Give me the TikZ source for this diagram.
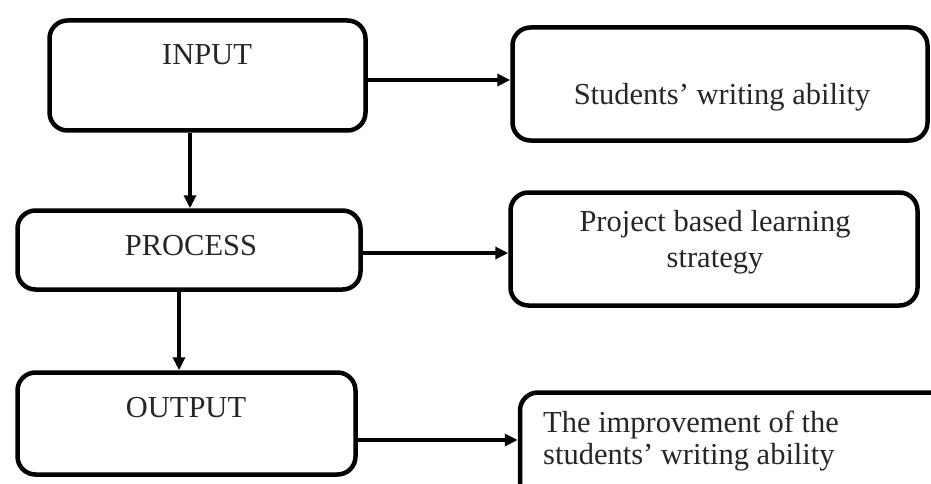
\documentclass[tikz,border=0pt]{standalone}
\usepackage{fontspec}
\setmainfont{Liberation Serif}
\usetikzlibrary{arrows.meta,positioning}

\begin{document}
\begin{tikzpicture}[x=1pt,y=-1pt,
  box/.style={draw=black,line width=4.5pt,rounded corners=18pt,inner sep=0pt},
  txt/.style={inner sep=0pt,text=black!85,font=\fontsize{30.5}{32}\selectfont},
  arr/.style={-{Triangle[length=13pt,width=12pt]},line width=3.5pt}
]
  \clip (0,0) rectangle (931,484);

  % Stages on the left
  \node[box,minimum width=316pt,minimum height=110pt] (input)   at (207.5,75.5) {};
  \node[box,minimum width=343pt,minimum height=79pt]  (process) at (189,250) {};
  \node[box,minimum width=338pt,minimum height=102pt] (output)  at (186.5,423.5) {};
  \node[txt,anchor=base] (inputtxt)   at (207,65)  {INPUT};
  \node[txt,anchor=base] (processtxt) at (191,255) {PROCESS};
  \node[txt,anchor=base] (outputtxt)  at (186,417) {OUTPUT};

  % What each stage stands for
  \node[box,minimum width=415pt,minimum height=113pt] (ability)  at (720,84) {};
  \node[box,minimum width=407pt,minimum height=113pt] (pbl)      at (714,249) {};
  \node[box,minimum width=480pt,minimum height=117pt] (improve)  at (760,451) {};
  \node[txt,anchor=base] (abilitytxt) at (722,105) {Students' writing ability};
  \node[txt,anchor=base,align=center,font=\fontsize{30.5}{36}\selectfont] (pbltxt) at (715,267)
    {Project based learning\\strategy};
  \node[txt,anchor=base west,align=left] (improvetxt) at (543,464)
    {The improvement of the\\students' writing ability};

  % Flow down and across
  \draw[arr] ([xshift=-17.5pt]input.south) -- ([xshift=-17.5pt]input.south |- process.north);
  \draw[arr] ([xshift=-10pt]process.south) -- ([xshift=-10pt]process.south |- output.north);
  \draw[arr] ([yshift=-4.5pt]input.east) -- ([yshift=-4.5pt]input.east -| ability.west);
  \draw[arr] ([yshift=-3pt]process.east) -- ([yshift=-3pt]process.east -| pbl.west);
  \draw[arr] ([yshift=-16.5pt]output.east) -- ([yshift=-16.5pt]output.east -| improve.west);
\end{tikzpicture}
\end{document}
